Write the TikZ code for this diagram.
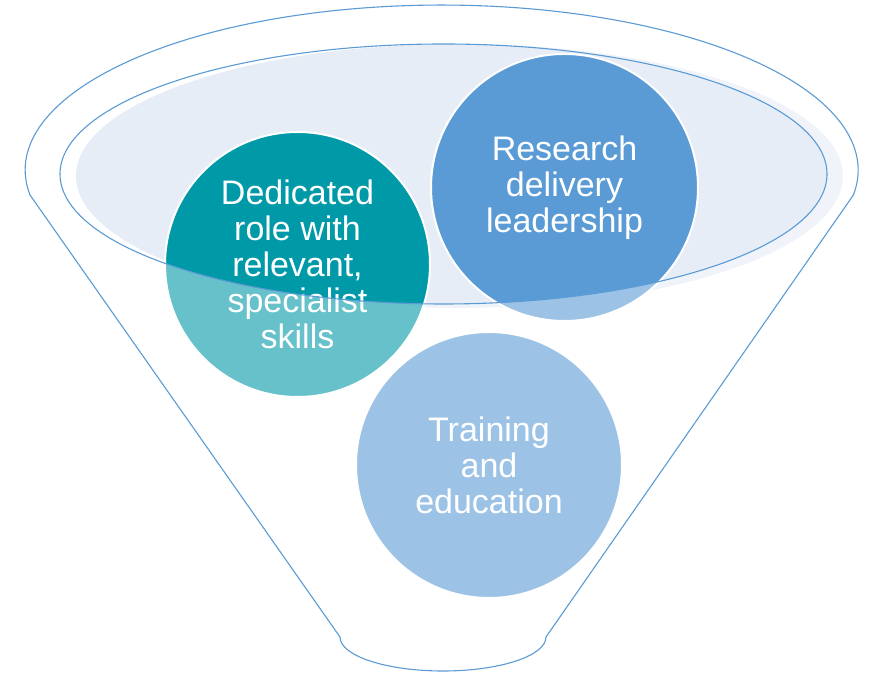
\documentclass[tikz,border=0pt]{standalone}
\usepackage{fontspec}
\setmainfont{Liberation Sans}
\definecolor{tealA}{HTML}{0099A8}
\definecolor{blueA}{HTML}{5B9BD5}
\definecolor{fillE}{HTML}{E6EDF7}
\definecolor{lineC}{HTML}{5B9BD5}
\begin{document}
\begin{tikzpicture}[x=1pt,y=1pt,
  bubble/.style={circle, draw=white, line width=2pt, text=white, align=center,
    font=\fontsize{34}{36}\selectfont, inner sep=0pt},
  outline/.style={draw=lineC, line width=1.1pt}]
\useasboundingbox (0,0) rectangle (872,674);
% light ellipse at the mouth
\fill[fillE] (459.5,498) ellipse [x radius=383.5, y radius=132];
% circles
\node[bubble, fill=tealA, minimum size=265pt] (dedicated) at (297.5,409.5)
  {Dedicated\\role with\\relevant,\\specialist\\skills};
\node[bubble, fill=blueA, minimum size=267pt] (research) at (564.5,486.5)
  {Research\\delivery\\leadership};
\node[bubble, fill=blueA, minimum size=266pt] (training) at (489,209)
  {Training\\and\\education};
% translucent funnel body with the mouth left open
\fill[white, opacity=0.4, even odd rule]
  (30,479) arc[start angle=188.7, end angle=-8.7, x radius=416.5, y radius=165]
  -- (546,37) arc[start angle=0, end angle=-180, x radius=103, y radius=34]
  -- cycle
  (443.5,500) ellipse [x radius=383.5, y radius=130];
% outlines
\draw[outline] (443.5,500) ellipse [x radius=383.5, y radius=130];
\draw[outline]
  (30,479) arc[start angle=188.7, end angle=-8.7, x radius=416.5, y radius=165]
  -- (546,37) arc[start angle=0, end angle=-180, x radius=103, y radius=34]
  -- cycle;
\end{tikzpicture}
\end{document}
